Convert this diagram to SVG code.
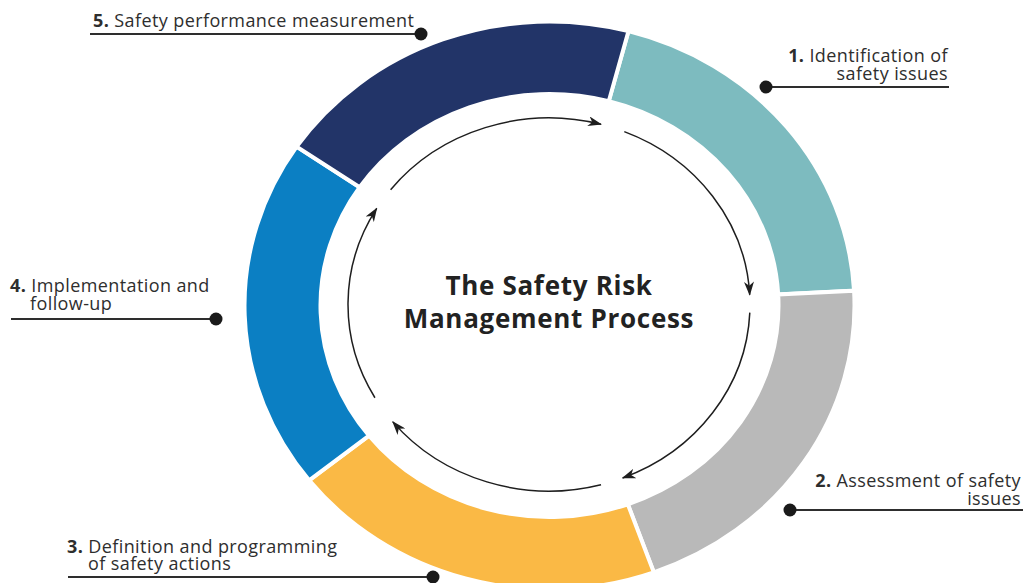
<svg xmlns="http://www.w3.org/2000/svg" width="1026" height="583" viewBox="0 0 1026 583">
<style>
.seg{stroke:#ffffff;stroke-width:4;stroke-linejoin:miter}
.lbl{font-family:"Open Sans","Noto Sans","Liberation Sans",sans-serif;font-size:18px;letter-spacing:0.4px;fill:#2e2e2e}
.num{font-weight:bold}
.lead{stroke:#2e2e2e;stroke-width:1.8;fill:none}
.dot{fill:#1a1a1a}
.title{font-family:"Open Sans","Noto Sans","Liberation Sans",sans-serif;font-size:26px;letter-spacing:0.7px;font-weight:bold;fill:#222222;text-anchor:middle}
.arc{fill:none;stroke:#1e1e1e;stroke-width:1.5;marker-end:url(#ah)}
</style>
<defs>
<marker id="ah" markerUnits="userSpaceOnUse" viewBox="0 0 14 10" refX="13" refY="5" markerWidth="14" markerHeight="10" orient="auto">
<path d="M0,0 L14,5 L0,10 L4,5 Z" fill="#1e1e1e"/>
</marker>
</defs>
<rect width="1026" height="583" fill="#ffffff"/>
<g id="node-1">
<path class="seg" fill="#7dbbbf" d="M628.44,31.18 A305,284 0 0 1 854.08,290.64 L778.19,294.43 A229,211.5 0 0 0 608.77,101.21 Z"/>
<text class="lbl" x="948" y="62" text-anchor="end"><tspan class="num">1.</tspan> Identification of</text>
<text class="lbl" x="948" y="80" text-anchor="end">safety issues</text>
<line class="lead" x1="766" y1="87" x2="949" y2="87"/>
<circle class="dot" cx="766" cy="87" r="6.5"/>
</g>
<g id="node-2">
<path class="seg" fill="#b9b9b9" d="M854.08,290.64 A305,284 0 0 1 653.82,572.37 L627.82,504.25 A229,211.5 0 0 0 778.19,294.43 Z"/>
<text class="lbl" x="1021" y="487" text-anchor="end"><tspan class="num">2.</tspan> Assessment of safety</text>
<text class="lbl" x="1021" y="505" text-anchor="end">issues</text>
<line class="lead" x1="790" y1="510" x2="1023" y2="510"/>
<circle class="dot" cx="790" cy="510" r="6.5"/>
</g>
<g id="node-3">
<path class="seg" fill="#fab945" d="M653.82,572.37 A305,284 0 0 1 309.16,480.35 L369.05,435.71 A229,211.5 0 0 0 627.82,504.25 Z"/>
<text class="lbl" x="67" y="553"><tspan class="num">3.</tspan> Definition and programming</text>
<text class="lbl" x="88" y="570">of safety actions</text>
<line class="lead" x1="68" y1="577" x2="433" y2="577"/>
<circle class="dot" cx="433" cy="577" r="6.5"/>
</g>
<g id="node-4">
<path class="seg" fill="#0b7fc3" d="M309.16,480.35 A305,284 0 0 1 296.64,146.69 L359.65,187.23 A229,211.5 0 0 0 369.05,435.71 Z"/>
<text class="lbl" x="10" y="292"><tspan class="num">4.</tspan> Implementation and</text>
<text class="lbl" x="30" y="310">follow-up</text>
<line class="lead" x1="11" y1="319" x2="216" y2="319"/>
<circle class="dot" cx="216" cy="319" r="6.5"/>
</g>
<g id="node-5">
<path class="seg" fill="#223468" d="M296.64,146.69 A305,284 0 0 1 628.44,31.18 L608.77,101.21 A229,211.5 0 0 0 359.65,187.23 Z"/>
<text class="lbl" x="93" y="27"><tspan class="num">5.</tspan> Safety performance measurement</text>
<line class="lead" x1="90" y1="34" x2="421" y2="34"/>
<circle class="dot" cx="421" cy="34" r="6.5"/>
</g>
<g id="center-title">
<text class="title" x="549" y="295">The Safety Risk</text>
<text class="title" x="549" y="328">Management Process</text>
</g>
<g id="connectors">
<path class="arc" d="M390.61,189.68 A201,186.5 0 0 1 601.02,124.35"/>
<path class="arc" d="M624.30,131.58 A201,186.5 0 0 1 749.72,294.74"/>
<path class="arc" d="M749.81,312.63 A201,186.5 0 0 1 622.67,478.02"/>
<path class="arc" d="M601.02,484.65 A201,186.5 0 0 1 392.79,421.87"/>
<path class="arc" d="M374.93,397.75 A201,186.5 0 0 1 376.71,208.45"/>
</g>
</svg>
